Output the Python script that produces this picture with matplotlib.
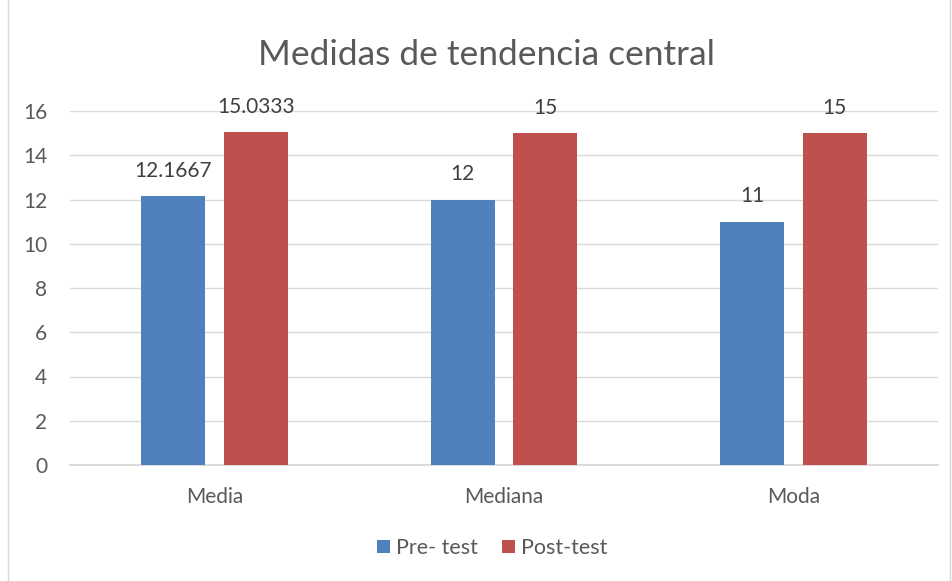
import matplotlib.pyplot as plt
from matplotlib.patches import Rectangle
import numpy as np

categories = ['Media', 'Mediana', 'Moda']
pre_test = [12.1667, 12, 11]
post_test = [15.0333, 15, 15]
pre_labels = ['12.1667', '12', '11']
post_labels = ['15.0333', '15', '15']
y_ticks = [0, 2, 4, 6, 8, 10, 12, 14, 16]

plt.rcParams['font.family'] = ['Lato', 'DejaVu Sans']
txt = '#595959'
grid = '#D9D9D9'

fig = plt.figure(figsize=(9.53, 5.81), dpi=100)
ax = fig.add_axes([70 / 953, 1 - 465 / 581, 868 / 953, 354 / 581])

x = np.arange(len(categories))
w = 0.222
off = 0.143
b1 = ax.bar(x - off, pre_test, w, color='#4F81BD', label='Pre- test', zorder=3)
b2 = ax.bar(x + off, post_test, w, color='#C0504D', label='Post-test', zorder=3)

for bars, labels in ((b1, pre_labels), (b2, post_labels)):
    for b, lab in zip(bars, labels):
        ax.annotate(lab, (b.get_x() + b.get_width() / 2, b.get_height()),
                    xytext=(0, 11), textcoords='offset points',
                    ha='center', va='bottom', fontsize=15, color='#404040')

ax.set_xlim(-0.5, 2.5)
ax.set_ylim(0, 16)
ax.set_yticks(y_ticks)
ax.set_xticks(x)
ax.set_xticklabels(categories)
ax.tick_params(axis='both', length=0, labelsize=15, colors=txt)
ax.tick_params(axis='x', pad=16)
ax.tick_params(axis='y', pad=16.5)
ax.grid(axis='y', color=grid, linewidth=1, zorder=0)
for s in ['top', 'right', 'left']:
    ax.spines[s].set_visible(False)
ax.spines['bottom'].set_color(grid)
ax.spines['bottom'].set_linewidth(1.3)

fig.text(487 / 953, 1 - 55 / 581, 'Medidas de tendencia central',
         ha='center', va='center', fontsize=25.5, color=txt)

fig.legend(loc='center', bbox_to_anchor=(492 / 953, 1 - 548 / 581), ncol=2,
           frameon=False, fontsize=15.5, handlelength=0.6, handleheight=0.6,
           handletextpad=0.3, columnspacing=1.1, labelcolor=txt)

fig.patches.append(Rectangle((8 / 953, -0.01), 942 / 953, 1.02,
                             transform=fig.transFigure, fill=False,
                             edgecolor=grid, linewidth=1))

fig.savefig('out.png', dpi=100)
